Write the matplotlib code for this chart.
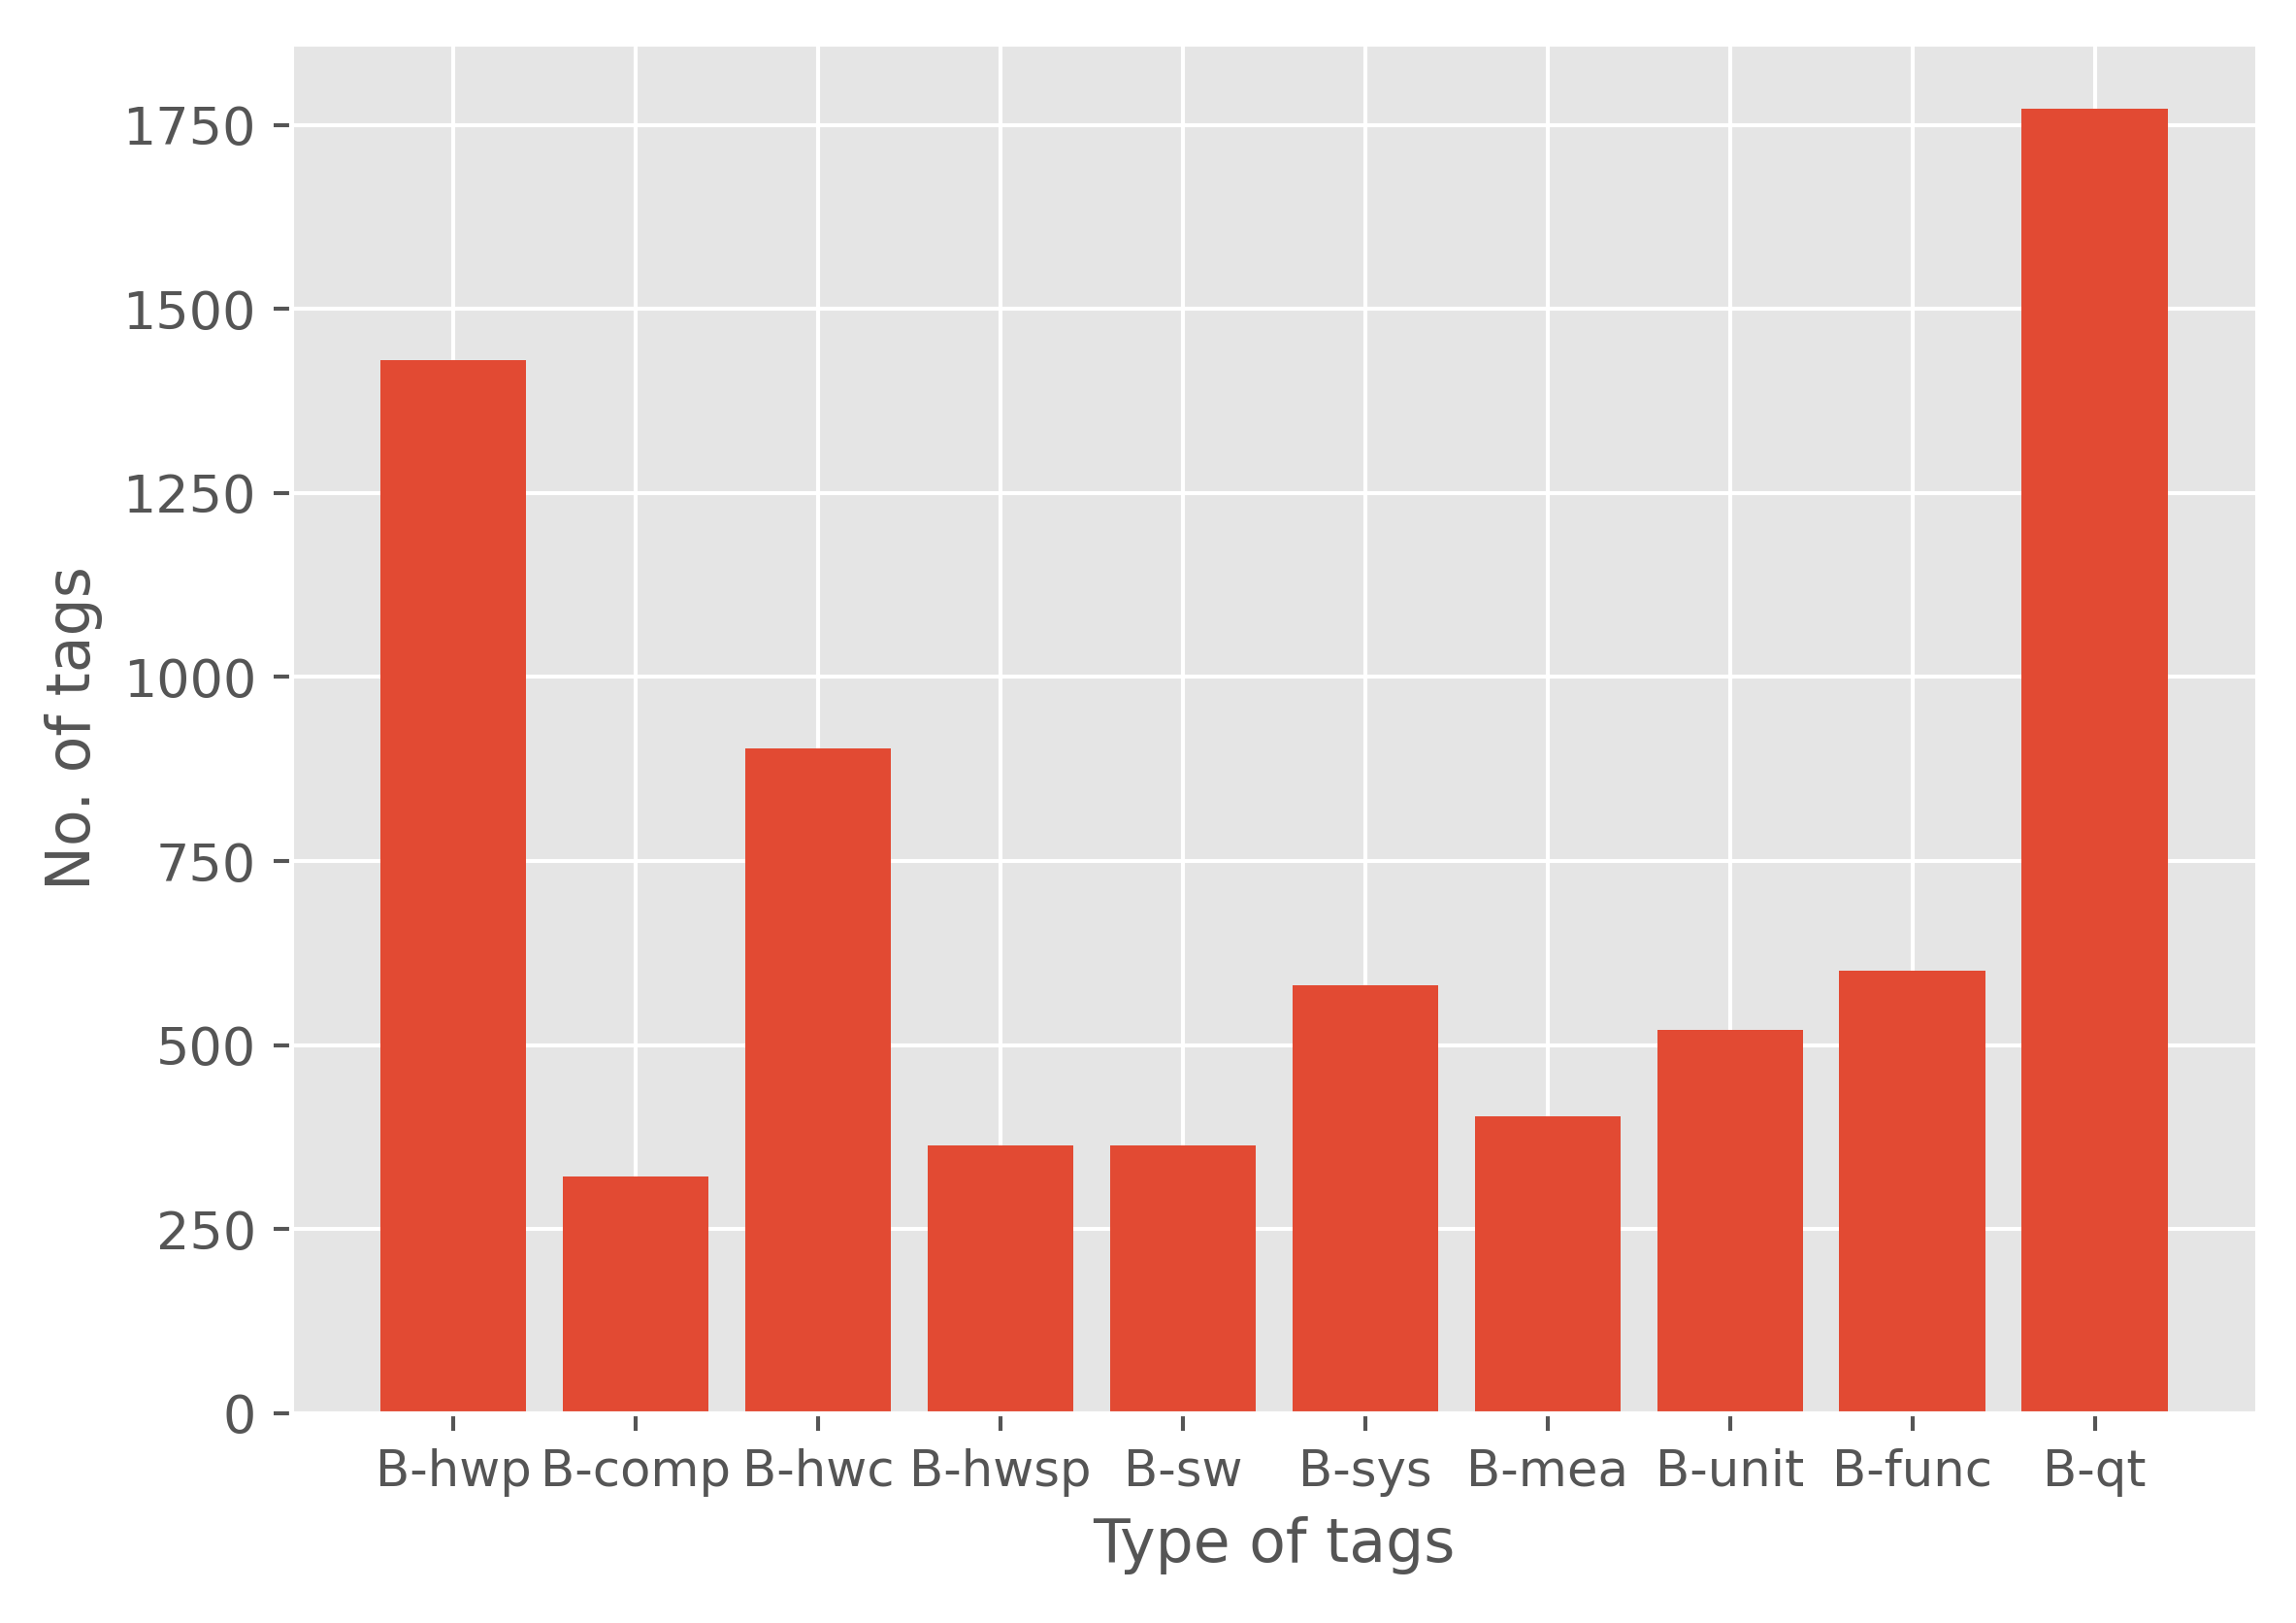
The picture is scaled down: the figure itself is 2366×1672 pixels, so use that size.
import matplotlib
matplotlib.use("Agg")
import matplotlib.pyplot as plt

plt.style.use("ggplot")

categories = ["B-hwp", "B-comp", "B-hwc", "B-hwsp", "B-sw", "B-sys", "B-mea", "B-unit", "B-func", "B-qt"]
counts = [1430, 321, 903, 363, 363, 581, 403, 520, 601, 1772]

fig = plt.figure(figsize=(2366 / 370, 1672 / 370), dpi=370)
ax = fig.add_axes([0.1268, 0.1294, 0.9830 - 0.1268, 0.9731 - 0.1294])
ax.bar(categories, counts, color="#E24A33")
ax.set_xlabel("Type of tags", fontsize=12)
ax.set_ylabel("No. of tags", fontsize=12)
ax.tick_params(axis="x", labelsize=10)
ax.tick_params(axis="y", labelsize=10.5)
fig.savefig("out.png", dpi=370)
